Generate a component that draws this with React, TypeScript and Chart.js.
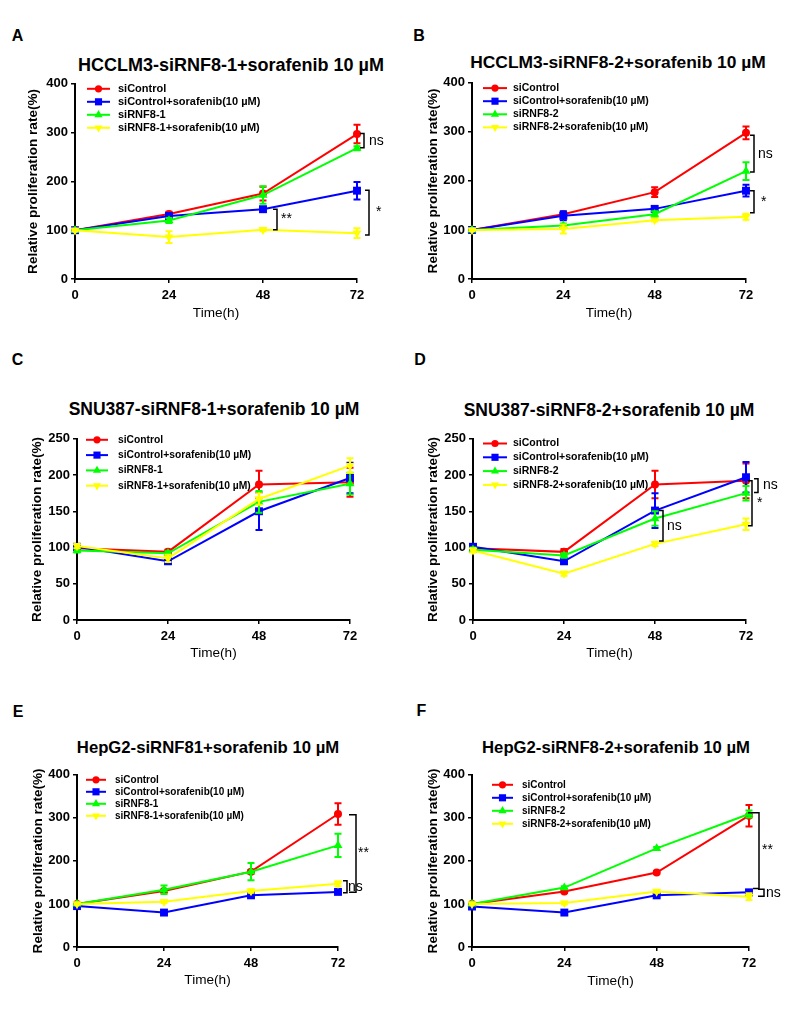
import React, { useEffect, useRef } from 'react';
import { Chart, registerables } from 'chart.js';

Chart.register(...registerables);

const FONT = '"Liberation Sans", Arial, Helvetica, sans-serif';
Chart.defaults.font.family = FONT;

// ---------- shared data ----------
const timePoints = [0, 24, 48, 72];
const xTickValues = [0, 24, 48, 72];
const yTicks400 = [0, 100, 200, 300, 400];
const yTicks250 = [0, 50, 100, 150, 200, 250];
const xAxisTitle = 'Time(h)';
const yAxisTitle = 'Relative proliferation rate(%)';

// ---------- Panel A ----------
const titleA = 'HCCLM3-siRNF8-1+sorafenib 10 µM';
const labelsA = ['siControl', 'siControl+sorafenib(10 µM)', 'siRNF8-1', 'siRNF8-1+sorafenib(10 µM)'];
const aSiControl = [100, 133, 175, 297];
const aSiControlErr = [2, 5, 14, 19];
const aSiControlSora = [100, 129, 143, 181];
const aSiControlSoraErr = [2, 6, 4, 18];
const aSiRNF = [100, 120, 172, 268];
const aSiRNFErr = [2, 5, 18, 4];
const aSiRNFSora = [100, 86, 101, 94];
const aSiRNFSoraErr = [2, 12, 3, 10];
const bracketsA = [
  { t: 72, y1: 298, y2: 269, label: 'ns' },
  { t: 48, y1: 143, y2: 101, label: '**' },
  { t: 72, y1: 182, y2: 90, label: '*' },
];

// ---------- Panel B ----------
const titleB = 'HCCLM3-siRNF8-2+sorafenib 10 µM';
const labelsB = ['siControl', 'siControl+sorafenib(10 µM)', 'siRNF8-2', 'siRNF8-2+sorafenib(10 µM)'];
const bSiControl = [100, 132, 177, 298];
const bSiControlErr = [2, 5, 10, 13];
const bSiControlSora = [100, 129, 143, 180];
const bSiControlSoraErr = [2, 9, 4, 12];
const bSiRNF = [100, 109, 132, 220];
const bSiRNFErr = [2, 4, 6, 18];
const bSiRNFSora = [100, 102, 120, 127];
const bSiRNFSoraErr = [2, 9, 3, 6];
const bracketsB = [
  { t: 72, y1: 293, y2: 218, label: 'ns' },
  { t: 72, y1: 180, y2: 135, label: '*' },
];

// ---------- Panel C ----------
const titleC = 'SNU387-siRNF8-1+sorafenib 10 µM';
const labelsC = ['siControl', 'siControl+sorafenib(10 µM)', 'siRNF8-1', 'siRNF8-1+sorafenib(10 µM)'];
const cSiControl = [99, 94, 187, 190];
const cSiControlErr = [4, 3, 19, 20];
const cSiControlSora = [101, 81, 150, 196];
const cSiControlSoraErr = [3, 3, 26, 21];
const cSiRNF = [96, 92, 163, 188];
const cSiRNFErr = [3, 3, 15, 15];
const cSiRNFSora = [102, 85, 167, 213];
const cSiRNFSoraErr = [3, 5, 8, 10];
const bracketsC: { t: number; y1: number; y2: number; label: string }[] = [];

// ---------- Panel D ----------
const titleD = 'SNU387-siRNF8-2+sorafenib 10 µM';
const labelsD = ['siControl', 'siControl+sorafenib(10 µM)', 'siRNF8-2', 'siRNF8-2+sorafenib(10 µM)'];
const dSiControl = [99, 94, 187, 192];
const dSiControlErr = [4, 4, 19, 24];
const dSiControlSora = [101, 81, 151, 197];
const dSiControlSoraErr = [3, 3, 24, 21];
const dSiRNF = [97, 89, 140, 175];
const dSiRNFErr = [3, 3, 10, 10];
const dSiRNFSora = [96, 64, 105, 132];
const dSiRNFSoraErr = [3, 3, 3, 8];
const bracketsD = [
  { t: 48, y1: 151, y2: 109, label: 'ns' },
  { t: 72, y1: 195, y2: 176, label: 'ns' },
  { t: 72, y1: 192, y2: 130, label: '*' },
];

// ---------- Panel E ----------
const titleE = 'HepG2-siRNF81+sorafenib 10 µM';
const labelsE = ['siControl', 'siControl+sorafenib(10 µM)', 'siRNF8-1', 'siRNF8-1+sorafenib(10 µM)'];
const eSiControl = [100, 130, 175, 309];
const eSiControlErr = [2, 3, 4, 25];
const eSiControlSora = [95, 80, 120, 128];
const eSiControlSoraErr = [2, 2, 3, 3];
const eSiRNF = [100, 133, 175, 236];
const eSiRNFErr = [2, 10, 20, 27];
const eSiRNFSora = [100, 105, 130, 147];
const eSiRNFSoraErr = [2, 3, 4, 6];
const bracketsE = [
  { t: 72, y1: 307, y2: 127, label: '**' },
  { t: 72, y1: 154, y2: 126, label: 'ns' },
];

// ---------- Panel F ----------
const titleF = 'HepG2-siRNF8-2+sorafenib 10 µM';
const labelsF = ['siControl', 'siControl+sorafenib(10 µM)', 'siRNF8-2', 'siRNF8-2+sorafenib(10 µM)'];
const fSiControl = [100, 129, 173, 305];
const fSiControlErr = [2, 3, 3, 25];
const fSiControlSora = [94, 80, 120, 127];
const fSiControlSoraErr = [2, 2, 3, 4];
const fSiRNF = [100, 138, 229, 309];
const fSiRNFErr = [2, 3, 3, 8];
const fSiRNFSora = [100, 102, 129, 117];
const fSiRNFSoraErr = [2, 3, 3, 8];
const bracketsF = [
  { t: 72, y1: 312, y2: 136, label: '**' },
  { t: 72, y1: 134, y2: 118, label: 'ns' },
];

// ---------- styles ----------
const seriesColors = ['#FF0000', '#0000FF', '#00FF00', '#FFFF00'];
const seriesMarkers = ['circle', 'rect', 'triangle', 'invtriangle'];
const markerRadius = [4, 5.6, 5.2, 5.2];

const Y_TITLE_SIZE = 13.6;
const X_TITLE_SIZE = 13.6;
const TITLE_LH = 1.2;

type Bracket = { t: number; y1: number; y2: number; label: string };
type BracketStyle = { dx: number; textDx: number; tick1?: number; tick2?: number };
type LegendStyle = { lineStart: number; lineEnd: number; textX: number; firstY: number; spacing: number; fontSize: number };

type PanelCfg = {
  letter: string;
  letterCx: number;
  letterCy: number;
  title: string;
  titleCx: number;
  titleCy: number;
  titleSize: number;
  canvasLeft: number;
  canvasWidth: number;
  plotL: number;
  plotR: number;
  plotT: number;
  plotB: number;
  yTitleCx: number;
  xTitleCy: number;
  yTicks: number[];
  labels: string[];
  values: number[][];
  errors: number[][];
  brackets: Bracket[];
  bracketStyles: BracketStyle[];
  legend: LegendStyle;
};

const panels: PanelCfg[] = [
  {
    letter: 'A', letterCx: 17.5, letterCy: 36,
    title: titleA, titleCx: 231, titleCy: 65, titleSize: 18,
    canvasLeft: 0, canvasWidth: 400,
    plotL: 75, plotR: 357, plotT: 83, plotB: 279,
    yTitleCx: 33, xTitleCy: 313,
    yTicks: yTicks400,
    labels: labelsA,
    values: [aSiControl, aSiControlSora, aSiRNF, aSiRNFSora],
    errors: [aSiControlErr, aSiControlSoraErr, aSiRNFErr, aSiRNFSoraErr],
    brackets: bracketsA,
    bracketStyles: [{ dx: 7, textDx: 5 }, { dx: 14, textDx: 4 }, { dx: 12, textDx: 7 }],
    legend: { lineStart: 12, lineEnd: 35, textX: 43, firstY: 5, spacing: 13, fontSize: 11 },
  },
  {
    letter: 'B', letterCx: 419, letterCy: 36,
    title: titleB, titleCx: 618, titleCy: 63, titleSize: 17.4,
    canvasLeft: 400, canvasWidth: 397,
    plotL: 472, plotR: 746, plotT: 82, plotB: 279,
    yTitleCx: 433, xTitleCy: 313,
    yTicks: yTicks400,
    labels: labelsB,
    values: [bSiControl, bSiControlSora, bSiRNF, bSiRNFSora],
    errors: [bSiControlErr, bSiControlSoraErr, bSiRNFErr, bSiRNFSoraErr],
    brackets: bracketsB,
    bracketStyles: [{ dx: 8, textDx: 4 }, { dx: 8, textDx: 7 }],
    legend: { lineStart: 11, lineEnd: 35, textX: 41, firstY: 5.3, spacing: 13.1, fontSize: 10.5 },
  },
  {
    letter: 'C', letterCx: 17.5, letterCy: 360,
    title: titleC, titleCx: 214, titleCy: 410, titleSize: 17.5,
    canvasLeft: 0, canvasWidth: 400,
    plotL: 77, plotR: 350, plotT: 438, plotB: 620,
    yTitleCx: 37.7, xTitleCy: 653,
    yTicks: yTicks250,
    labels: labelsC,
    values: [cSiControl, cSiControlSora, cSiRNF, cSiRNFSora],
    errors: [cSiControlErr, cSiControlSoraErr, cSiRNFErr, cSiRNFSoraErr],
    brackets: bracketsC,
    bracketStyles: [],
    legend: { lineStart: 9, lineEnd: 31, textX: 41, firstY: 1, spacing: 15.3, fontSize: 10.3 },
  },
  {
    letter: 'D', letterCx: 420, letterCy: 360,
    title: titleD, titleCx: 609, titleCy: 411, titleSize: 17.5,
    canvasLeft: 400, canvasWidth: 397,
    plotL: 473, plotR: 746, plotT: 438, plotB: 620,
    yTitleCx: 433.3, xTitleCy: 653,
    yTicks: yTicks250,
    labels: labelsD,
    values: [dSiControl, dSiControlSora, dSiRNF, dSiRNFSora],
    errors: [dSiControlErr, dSiControlSoraErr, dSiRNFErr, dSiRNFSoraErr],
    brackets: bracketsD,
    bracketStyles: [{ dx: 8, textDx: 4 }, { dx: 12, textDx: 5 }, { dx: 6, textDx: 5 }],
    legend: { lineStart: 10, lineEnd: 34, textX: 40, firstY: 4.7, spacing: 13.8, fontSize: 10.5 },
  },
  {
    letter: 'E', letterCx: 18, letterCy: 712,
    title: titleE, titleCx: 208, titleCy: 748, titleSize: 16.7,
    canvasLeft: 0, canvasWidth: 400,
    plotL: 77, plotR: 338, plotT: 774, plotB: 947,
    yTitleCx: 38.3, xTitleCy: 980,
    yTicks: yTicks400,
    labels: labelsE,
    values: [eSiControl, eSiControlSora, eSiRNF, eSiRNFSora],
    errors: [eSiControlErr, eSiControlSoraErr, eSiRNFErr, eSiRNFSoraErr],
    brackets: bracketsE,
    bracketStyles: [{ dx: 18, textDx: 2, tick1: 7, tick2: 7 }, { dx: 9, textDx: 1 }],
    legend: { lineStart: 9, lineEnd: 29, textX: 38, firstY: 5, spacing: 12, fontSize: 10 },
  },
  {
    letter: 'F', letterCx: 421.5, letterCy: 711,
    title: titleF, titleCx: 616, titleCy: 748, titleSize: 16.7,
    canvasLeft: 400, canvasWidth: 397,
    plotL: 472, plotR: 749, plotT: 774, plotB: 947,
    yTitleCx: 433, xTitleCy: 981,
    yTicks: yTicks400,
    labels: labelsF,
    values: [fSiControl, fSiControlSora, fSiRNF, fSiRNFSora],
    errors: [fSiControlErr, fSiControlSoraErr, fSiRNFErr, fSiRNFSoraErr],
    brackets: bracketsF,
    bracketStyles: [{ dx: 10, textDx: 3, tick1: 11, tick2: 6 }, { dx: 15, textDx: 2, tick1: 6, tick2: 6 }],
    legend: { lineStart: 20, lineEnd: 41, textX: 50, firstY: 10, spacing: 13, fontSize: 10 },
  },
];

// ---------- drawing helpers ----------
function drawMarker(ctx: CanvasRenderingContext2D, style: string, x: number, y: number, r: number, color: string) {
  ctx.save();
  ctx.fillStyle = color;
  ctx.beginPath();
  if (style === 'circle') {
    ctx.arc(x, y, r, 0, Math.PI * 2);
  } else if (style === 'rect') {
    const s = r * Math.SQRT1_2;
    ctx.rect(x - s, y - s, 2 * s, 2 * s);
  } else if (style === 'triangle') {
    ctx.moveTo(x, y - r);
    ctx.lineTo(x + r * 0.866, y + r * 0.5);
    ctx.lineTo(x - r * 0.866, y + r * 0.5);
    ctx.closePath();
  } else {
    ctx.moveTo(x, y + r);
    ctx.lineTo(x + r * 0.866, y - r * 0.5);
    ctx.lineTo(x - r * 0.866, y - r * 0.5);
    ctx.closePath();
  }
  ctx.fill();
  ctx.restore();
}

const errorBarPlugin = {
  id: 'errorBars',
  beforeDatasetDraw(chart: any, args: any, opts: any) {
    const errs: number[] | undefined = opts.errors?.[args.index];
    if (!errs) return;
    const ds = chart.data.datasets[args.index];
    const xs = chart.scales.x;
    const ys = chart.scales.y;
    const ctx: CanvasRenderingContext2D = chart.ctx;
    const cap = 3.5;
    ctx.save();
    ctx.strokeStyle = ds.borderColor;
    ctx.lineWidth = 2;
    ds.data.forEach((p: { x: number; y: number }, j: number) => {
      const e = errs[j];
      if (!e) return;
      const x = xs.getPixelForValue(p.x);
      const yt = ys.getPixelForValue(p.y + e);
      const yb = ys.getPixelForValue(p.y - e);
      ctx.beginPath();
      ctx.moveTo(x, yt);
      ctx.lineTo(x, yb);
      ctx.moveTo(x - cap, yt);
      ctx.lineTo(x + cap, yt);
      ctx.moveTo(x - cap, yb);
      ctx.lineTo(x + cap, yb);
      ctx.stroke();
    });
    ctx.restore();
  },
};

const bracketPlugin = {
  id: 'sigBrackets',
  afterDraw(chart: any, _args: any, opts: any) {
    const list: Bracket[] = opts.brackets || [];
    const styles: BracketStyle[] = opts.styles || [];
    const xs = chart.scales.x;
    const ys = chart.scales.y;
    const ctx: CanvasRenderingContext2D = chart.ctx;
    list.forEach((b, i) => {
      const st = styles[i] || { dx: 8, textDx: 4 };
      const x = xs.getPixelForValue(b.t) + st.dx;
      const y1 = ys.getPixelForValue(b.y1);
      const y2 = ys.getPixelForValue(b.y2);
      const t1 = st.tick1 ?? 4;
      const t2 = st.tick2 ?? 4;
      ctx.save();
      ctx.strokeStyle = '#000';
      ctx.lineWidth = 1.5;
      ctx.beginPath();
      ctx.moveTo(x - t1, y1);
      ctx.lineTo(x, y1);
      ctx.lineTo(x, y2);
      ctx.lineTo(x - t2, y2);
      ctx.stroke();
      ctx.fillStyle = '#000';
      ctx.font = `14px ${FONT}`;
      ctx.textAlign = 'left';
      ctx.textBaseline = 'middle';
      ctx.fillText(b.label, x + st.textDx, (y1 + y2) / 2);
      ctx.restore();
    });
  },
};

const legendPlugin = {
  id: 'insideLegend',
  afterDraw(chart: any, _args: any, opts: any) {
    const lg: LegendStyle = opts.layout;
    if (!lg) return;
    const ctx: CanvasRenderingContext2D = chart.ctx;
    const { left, top } = chart.chartArea;
    chart.data.datasets.forEach((ds: any, i: number) => {
      const y = top + lg.firstY + i * lg.spacing;
      const x1 = left + lg.lineStart;
      const x2 = left + lg.lineEnd;
      ctx.save();
      ctx.strokeStyle = ds.borderColor;
      ctx.lineWidth = 2;
      ctx.beginPath();
      ctx.moveTo(x1, y);
      ctx.lineTo(x2, y);
      ctx.stroke();
      ctx.restore();
      drawMarker(ctx, seriesMarkers[i], (x1 + x2) / 2, y, markerRadius[i] * 0.9, ds.borderColor);
      ctx.save();
      ctx.fillStyle = '#000';
      ctx.font = `bold ${lg.fontSize}px ${FONT}`;
      ctx.textAlign = 'left';
      ctx.textBaseline = 'middle';
      ctx.fillText(ds.label, left + lg.textX, y);
      ctx.restore();
    });
  },
};

function geometry(cfg: PanelCfg) {
  const padTop = 10;
  const canvasTop = cfg.plotT - padTop;
  const scaleLeft = cfg.yTitleCx - (Y_TITLE_SIZE * TITLE_LH) / 2;
  const padLeft = scaleLeft - cfg.canvasLeft;
  const yWidth = cfg.plotL - scaleLeft;
  const padRight = cfg.canvasLeft + cfg.canvasWidth - cfg.plotR;
  const xHeight = cfg.xTitleCy + (X_TITLE_SIZE * TITLE_LH) / 2 - cfg.plotB;
  const exact = cfg.plotB + xHeight - canvasTop;
  const canvasHeight = Math.ceil(exact);
  const padBottom = canvasHeight - exact;
  return { padTop, canvasTop, padLeft, yWidth, padRight, xHeight, canvasHeight, padBottom };
}

function Panel({ cfg }: { cfg: PanelCfg }) {
  const ref = useRef<HTMLCanvasElement | null>(null);
  const g = geometry(cfg);

  useEffect(() => {
    if (!ref.current) return;
    const datasets = cfg.values.map((vals, i) => ({
      label: cfg.labels[i],
      data: timePoints.map((t, j) => ({ x: t, y: vals[j] })),
      borderColor: seriesColors[i],
      backgroundColor: seriesColors[i],
      borderWidth: 2,
      pointStyle: seriesMarkers[i] === 'invtriangle' ? 'triangle' : seriesMarkers[i],
      pointRotation: seriesMarkers[i] === 'invtriangle' ? 180 : 0,
      pointRadius: markerRadius[i],
      pointBorderWidth: 0,
      tension: 0,
      clip: false as const,
      order: 3 - i,
    }));

    const chart = new Chart(ref.current, {
      type: 'line',
      data: { datasets },
      plugins: [errorBarPlugin, bracketPlugin, legendPlugin],
      options: {
        responsive: false,
        animation: false,
        devicePixelRatio: 1,
        events: [],
        layout: { padding: { top: g.padTop, left: g.padLeft, right: g.padRight, bottom: g.padBottom } },
        plugins: {
          legend: { display: false },
          tooltip: { enabled: false },
          title: { display: false },
          errorBars: { errors: cfg.errors },
          sigBrackets: { brackets: cfg.brackets, styles: cfg.bracketStyles },
          insideLegend: { layout: cfg.legend },
        } as any,
        scales: {
          x: {
            type: 'linear',
            min: xTickValues[0],
            max: xTickValues[xTickValues.length - 1],
            afterFit: (s: any) => { s.height = g.xHeight; },
            afterBuildTicks: (s: any) => { s.ticks = xTickValues.map((v) => ({ value: v })); },
            ticks: {
              color: '#000',
              font: { size: 13, weight: 'bold', family: FONT, lineHeight: 1.2 },
              padding: 5,
              maxRotation: 0,
              autoSkip: false,
            },
            grid: { drawOnChartArea: false, color: '#000', lineWidth: 1.5, tickLength: 4 },
            border: { color: '#000', width: 2 },
            title: {
              display: true,
              text: xAxisTitle,
              color: '#000',
              font: { size: X_TITLE_SIZE, weight: 'normal', family: FONT, lineHeight: TITLE_LH },
              padding: 0,
            },
          },
          y: {
            type: 'linear',
            min: cfg.yTicks[0],
            max: cfg.yTicks[cfg.yTicks.length - 1],
            afterFit: (s: any) => { s.width = g.yWidth; },
            afterBuildTicks: (s: any) => { s.ticks = cfg.yTicks.map((v) => ({ value: v })); },
            ticks: {
              color: '#000',
              font: { size: 13, weight: 'bold', family: FONT, lineHeight: 1.2 },
              padding: 3,
              autoSkip: false,
            },
            grid: { drawOnChartArea: false, color: '#000', lineWidth: 1.5, tickLength: 4 },
            border: { color: '#000', width: 2 },
            title: {
              display: true,
              text: yAxisTitle,
              color: '#000',
              font: { size: Y_TITLE_SIZE, weight: 'bold', family: FONT, lineHeight: TITLE_LH },
              padding: 0,
            },
          },
        },
      } as any,
    });
    return () => chart.destroy();
  }, []);

  return (
    <>
      <div
        style={{
          position: 'absolute', left: cfg.letterCx - 20, width: 40, top: cfg.letterCy - 8,
          height: 16, lineHeight: '16px', fontSize: 16, fontWeight: 'bold', fontFamily: FONT,
          textAlign: 'center', color: '#000',
        }}
      >
        {cfg.letter}
      </div>
      <div
        style={{
          position: 'absolute', left: cfg.titleCx - 250, width: 500, top: cfg.titleCy - cfg.titleSize / 2,
          height: cfg.titleSize, lineHeight: `${cfg.titleSize}px`, fontSize: cfg.titleSize,
          fontWeight: 'bold', fontFamily: FONT, textAlign: 'center', whiteSpace: 'nowrap', color: '#000',
        }}
      >
        {cfg.title}
      </div>
      <canvas
        ref={ref}
        width={cfg.canvasWidth}
        height={g.canvasHeight}
        style={{
          position: 'absolute', left: cfg.canvasLeft, top: g.canvasTop,
          width: cfg.canvasWidth, height: g.canvasHeight,
        }}
      />
    </>
  );
}

export default function App() {
  return (
    <div
      style={{
        position: 'absolute', left: 0, top: 0, width: 797, height: 1023,
        background: '#fff', overflow: 'hidden',
      }}
    >
      {panels.map((p) => (
        <Panel key={p.letter} cfg={p} />
      ))}
    </div>
  );
}
